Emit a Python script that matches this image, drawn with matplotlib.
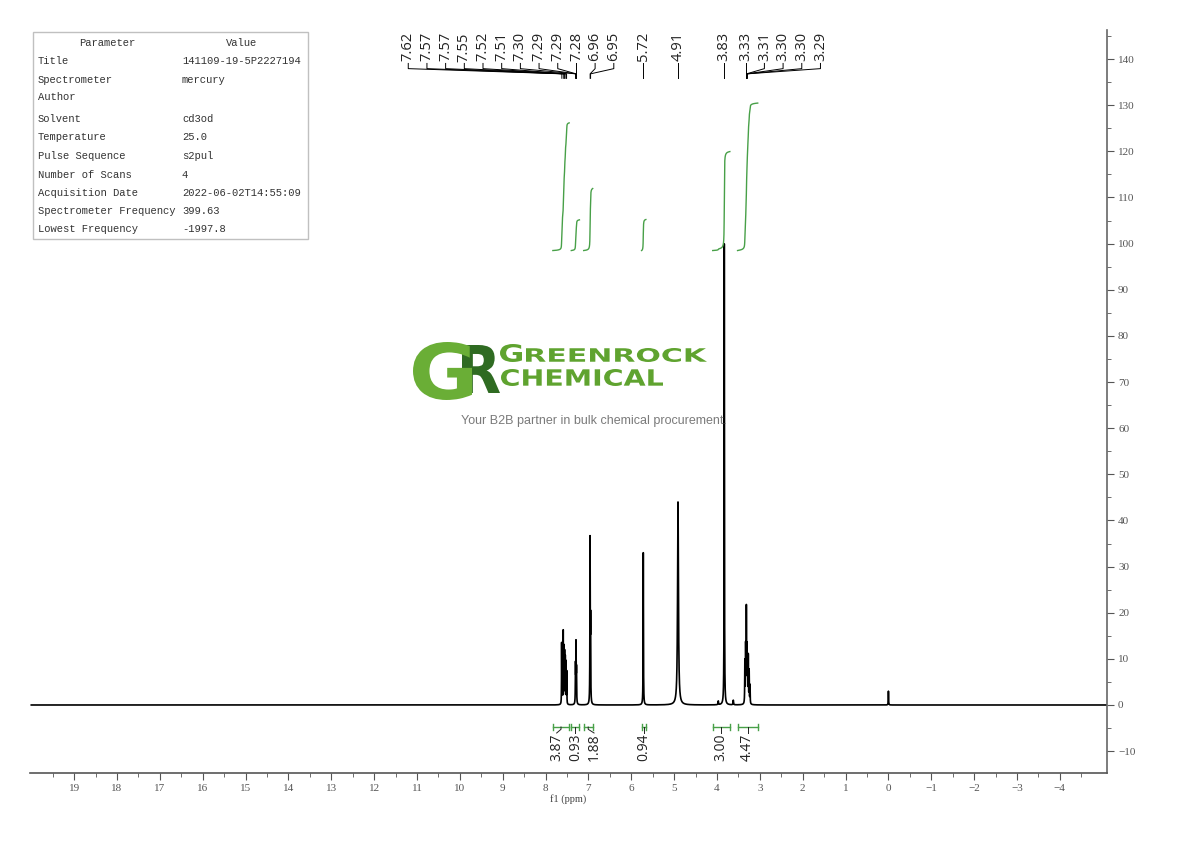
"""1H NMR spectrum, cd3od, 400 MHz."""

import matplotlib.pyplot as plt
import numpy as np
from matplotlib.textpath import TextPath
from matplotlib.patches import PathPatch, Rectangle
from matplotlib.font_manager import FontProperties
from matplotlib.transforms import Affine2D

# spectrum lines: ppm, height, half width
peak_ppm = [7.625, 7.61, 7.588, 7.572, 7.556, 7.54, 7.522, 7.506,
            7.302, 7.29, 7.279,
            6.962, 6.950,
            5.72,
            4.91,
            3.97, 3.83, 3.62,
            3.35, 3.332, 3.315, 3.30, 3.288, 3.27, 3.25, 3.23,
            0.0]
peak_height = [13, 10, 15.5, 12, 11, 10, 9, 7,
               8, 12.5, 7,
               35, 17,
               33,
               44,
               0.8, 100, 1.0,
               9, 12, 20, 11, 9, 10, 7, 4,
               3]
peak_width = [0.003] * 8 + [0.004] * 3 + [0.004] * 2 + [0.004, 0.012] \
    + [0.006, 0.004, 0.006] + [0.004] * 8 + [0.004]

# peak picking labels
pick_ppm = [7.62, 7.57, 7.57, 7.55, 7.52, 7.51, 7.30, 7.29, 7.29, 7.28,
            6.96, 6.95, 5.72, 4.91, 3.83, 3.33, 3.31, 3.30, 3.30, 3.29]

# integrals
int_start = [7.83, 7.40, 7.11, 5.76, 4.10, 3.52]
int_end = [7.45, 7.21, 6.90, 5.66, 3.70, 3.05]
int_value = [3.87, 0.93, 1.88, 0.94, 3.00, 4.47]

params = ['Title', 'Spectrometer', 'Author', 'Solvent', 'Temperature',
          'Pulse Sequence', 'Number of Scans', 'Acquisition Date',
          'Spectrometer Frequency', 'Lowest Frequency']
values = ['141109-19-5P2227194', 'mercury', '', 'cd3od', '25.0', 's2pul',
          '4', '2022-06-02T14:55:09', '399.63', '-1997.8']

GREEN = '#48a048'


def spread(centers, anchor, d):
    """Push labels apart (ppm descending) starting from one anchor label."""
    pos = list(centers)
    for i in range(anchor + 1, len(pos)):
        pos[i] = min(centers[i], pos[i - 1] - d)
    for i in range(anchor - 1, -1, -1):
        pos[i] = max(centers[i], pos[i + 1] + d)
    return pos


# build spectrum from the line list
x = np.linspace(20.0, -5.1, 60000)
y = np.zeros_like(x)
for c, h, w in zip(peak_ppm, peak_height, peak_width):
    y += h * w**2 / ((x - c)**2 + w**2)

fig = plt.figure(figsize=(11.9, 8.41), dpi=100)
ax = fig.add_axes([30 / 1190, 68 / 841, 1077 / 1190, 743 / 841])
ax.plot(x, y, color='black', lw=1.2)
ax.set_xlim(20.03, -5.10)
ax.set_ylim(-14.74, 146.3)

# axes style
for s in ['top', 'left']:
    ax.spines[s].set_visible(False)
ax.spines['bottom'].set_color('#555555')
ax.spines['right'].set_color('#666666')
ax.spines['bottom'].set_linewidth(1.2)
ax.spines['right'].set_linewidth(1.2)
ax.yaxis.tick_right()
ax.set_xticks(np.arange(-4, 20))
ax.set_xticks(np.arange(-4.5, 20, 1.0), minor=True)
ax.set_yticks(np.arange(-10, 141, 10))
ax.set_yticks(np.arange(-5, 146, 10), minor=True)
ax.tick_params(which='major', length=5, color='#555555', labelsize=8,
               labelcolor='#555555', pad=3)
ax.tick_params(which='minor', length=3, color='#555555')
for lab in ax.get_xticklabels() + ax.get_yticklabels():
    lab.set_family('Liberation Serif')
ax.set_xlabel('f1 (ppm)', family='Liberation Serif', fontsize=7.5,
              color='#444444', labelpad=1)

# integrals
scale = 7.15
base = 98.5
for a, b, v in zip(int_start, int_end, int_value):
    m = (x <= a) & (x >= b)
    cs = np.cumsum(y[m])
    cs = cs / cs[-1]
    ax.plot(x[m], base + cs * v * scale, color=GREEN, lw=1.0)

by = -4.77
centers = [(a + b) / 2 for a, b in zip(int_start, int_end)]
lab_pos = spread(centers, 1, 0.436)
for a, b, v, c, p in zip(int_start, int_end, int_value, centers, lab_pos):
    ax.plot([a, b], [by, by], color=GREEN, lw=1.0)
    ax.plot([a, a], [by - 0.6, by + 0.6], color=GREEN, lw=1.0)
    ax.plot([b, b], [by - 0.6, by + 0.6], color=GREEN, lw=1.0)
    ax.plot([c, c, p], [by, by - 0.5, by - 1.3], color='#222222', lw=0.7)
    ax.text(p, by - 1.4, '%.2f' % v, rotation=90, ha='center', va='top',
            fontsize=10, family='Open Sans', color='#222222')

# peak labels on top
tr = ax.get_xaxis_transform()
pick_pos = spread(pick_ppm, 9, 0.436)
for c, p in zip(pick_ppm, pick_pos):
    ax.text(p, 0.997, '%.2f' % c, rotation=90, ha='center', va='top',
            fontsize=10.5, family='Open Sans', color='#222222', transform=tr)
    ax.plot([p, p, c, c], [0.955, 0.948, 0.941, 0.935], color='black',
            lw=0.7, transform=tr)

# overlay in pixel coordinates for table and logo
ov = fig.add_axes([0, 0, 1, 1])
ov.set_xlim(0, 1190)
ov.set_ylim(841, 0)
ov.axis('off')

ov.add_patch(Rectangle((33, 32), 275, 207, fill=False, ec='#c0c0c0', lw=1))
tfont = dict(family='Liberation Mono', fontsize=7.6, color='#333333',
             va='center')
ov.text(107, 43, 'Parameter', ha='center', **tfont)
ov.text(242, 43, 'Value', ha='center', **tfont)
row_y = [61, 80, 97, 119, 137, 156, 175, 193, 211, 229]
for ry, p, v in zip(row_y, params, values):
    ov.text(38, ry, p, ha='left', **tfont)
    ov.text(182, ry, v, ha='left', **tfont)


def path_in_box(s, x0, x1, ytop, ybot, color, weight='normal'):
    tp = TextPath((0, 0), s, size=100,
                  prop=FontProperties(family='DejaVu Sans', weight=weight))
    ext = tp.get_extents()
    t = Affine2D().translate(-ext.x0, -ext.y0) \
        .scale((x1 - x0) / ext.width, -(ybot - ytop) / ext.height) \
        .translate(x0, ybot)
    ov.add_patch(PathPatch(t.transform_path(tp), fc=color, lw=0))


path_in_box('R', 462, 500, 345, 393, '#2f6b22', 'bold')
path_in_box('G', 413, 472, 342, 400, '#6aae36', 'bold')
path_in_box('G', 500, 522, 344, 362, '#5fa32f', 'bold')
path_in_box('REENROCK', 526, 707, 348, 362, '#5fa32f', 'bold')
path_in_box('CHEMICAL', 501, 663, 369, 386, '#5fa32f', 'bold')
ov.text(594, 421, 'Your B2B partner in bulk chemical procurement.',
        ha='center', va='center', fontsize=9, family='Liberation Sans',
        color='#7a7a7a')

plt.savefig('out.png', dpi=100)
